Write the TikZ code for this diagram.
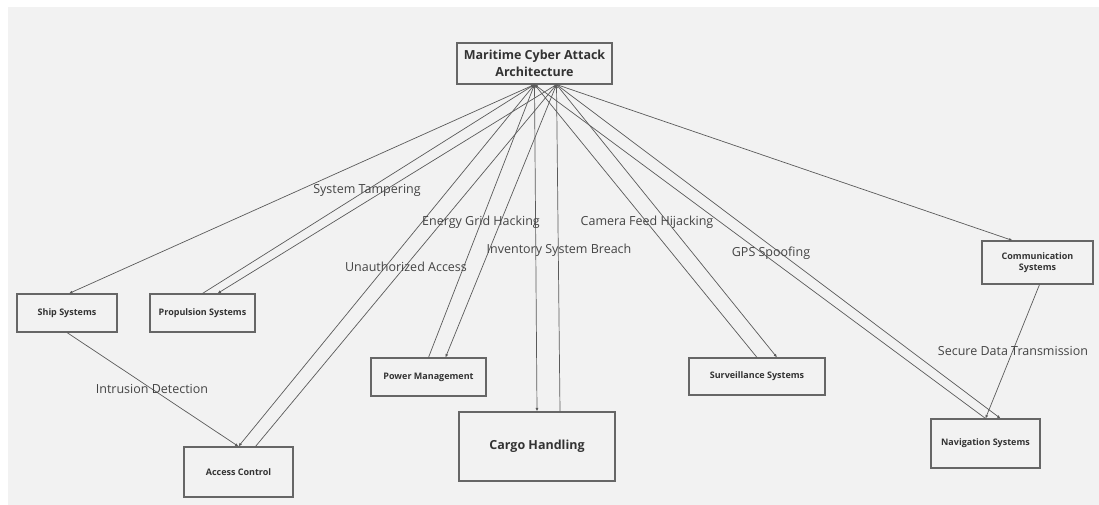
\documentclass[tikz,border=0pt]{standalone}
\usepackage{fontspec}
\setmainfont{Open Sans}
\usetikzlibrary{arrows.meta}
\definecolor{bgc}{HTML}{F2F2F2}
\definecolor{boxline}{HTML}{666666}
\definecolor{edgec}{HTML}{5A5A5A}
\definecolor{txtc}{HTML}{333333}
\definecolor{lblc}{HTML}{444444}
\tikzset{
  box/.style={draw=boxline, line width=1.1pt, fill=bgc, inner sep=1pt, text=txtc,
    font=\fontsize{9}{11}\selectfont\bfseries, align=center},
  bigbox/.style={box, font=\fontsize{12.5}{17}\selectfont\bfseries},
  conn/.style={draw=edgec, line width=0.7pt, -{Latex[length=3.5pt,width=3pt]}},
  lbl/.style={text=lblc, font=\fontsize{12.5}{15}\selectfont, inner sep=0pt}
}
\begin{document}
\begin{tikzpicture}[x=1pt,y=-1pt]
\useasboundingbox (0,0) rectangle (1099,505);
\fill[white] (0,0) rectangle (1099,505);
\fill[bgc] (8,7) rectangle (1099,505);

% nodes
\node[bigbox, minimum width=155pt, minimum height=41pt] (top) at (534.5,63.5) {Maritime Cyber Attack\\Architecture};
\node[box, minimum width=100pt, minimum height=38pt] (ship) at (67,313) {Ship Systems};
\node[box, minimum width=105pt, minimum height=38pt] (prop) at (202.5,313) {Propulsion Systems};
\node[box, minimum width=109pt, minimum height=50pt] (acc) at (238.5,472) {Access Control};
\node[box, minimum width=115pt, minimum height=38pt] (pow) at (428.5,377) {Power Management};
\node[bigbox, minimum width=156pt, minimum height=69pt] (cargo) at (537,446.5) {Cargo Handling};
\node[box, minimum width=136pt, minimum height=37pt] (surv) at (757,376.5) {Surveillance Systems};
\node[box, minimum width=111pt, minimum height=43pt] (comm) at (1037.5,262.5) {Communication\\Systems};
\node[box, minimum width=109pt, minimum height=49pt] (nav) at (985.5,443.5) {Navigation Systems};

% connectors
\draw[conn] (top.south) -- ([xshift=2pt]ship.north);
\draw[conn] (prop.north) -- (top.south);
\draw[conn] ([xshift=22pt]top.south) -- ([xshift=15pt]prop.north);
\draw[conn] (top.south) -- (acc.north);
\draw[conn] ([xshift=17pt]acc.north) -- ([xshift=22pt]top.south);
\draw[conn] (pow.north) -- (top.south);
\draw[conn] ([xshift=22pt]top.south) -- ([xshift=17pt]pow.north);
\draw[conn] (top.south) -- (cargo.north);
\draw[conn] ([xshift=23pt]cargo.north) -- ([xshift=22pt]top.south);
\draw[conn] (surv.north) -- (top.south);
\draw[conn] ([xshift=22pt]top.south) -- ([xshift=20pt]surv.north);
\draw[conn] (nav.north) -- (top.south);
\draw[conn] ([xshift=22pt]top.south) -- ([xshift=15pt]nav.north);
\draw[conn] ([xshift=22pt]top.south) -- ([xshift=-25pt]comm.north);
\draw[conn] ([xshift=2pt]comm.south) -- (nav.north);
\draw[conn] (ship.south) -- (acc.north);

% labels
\node[lbl] (l1) at (367,190) {System Tampering};
\node[lbl] (l2) at (481,222) {Energy Grid Hacking};
\node[lbl] (l3) at (647,222) {Camera Feed Hijacking};
\node[lbl] (l4) at (559,250) {Inventory System Breach};
\node[lbl] (l5) at (406,267) {Unauthorized Access};
\node[lbl] (l6) at (771,253) {GPS Spoofing};
\node[lbl] (l7) at (152,389) {Intrusion Detection};
\node[lbl] (l8) at (1013,351) {Secure Data Transmission};
\end{tikzpicture}
\end{document}
